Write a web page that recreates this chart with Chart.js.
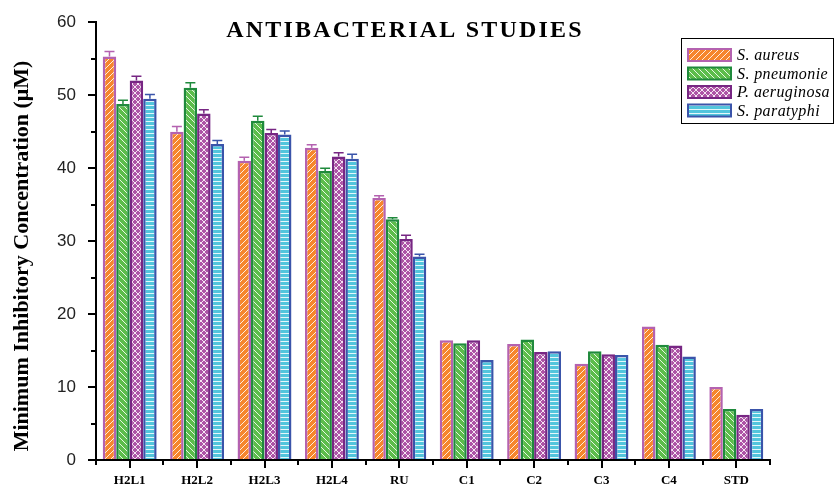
<!DOCTYPE html>
<html>
<head>
<meta charset="utf-8">
<script src="https://cdn.jsdelivr.net/npm/chart.js@4.4.1/dist/chart.umd.min.js"></script>
<style>
  html, body { margin: 0; padding: 0; background: #fff; }
  #wrap { width: 835px; height: 486px; position: relative; }
</style>
</head>
<body>
<div id="wrap"><canvas id="micChart"></canvas></div>
<script>
// Data
const compounds = ["H2L1", "H2L2", "H2L3", "H2L4", "RU", "C1", "C2", "C3", "C4", "STD"];
const seriesNames = ["S. aureus", "S. pneumonie", "P. aeruginosa", "S. paratyphi"];

const aureus      = [55.3, 45.0, 41.0, 42.8, 35.9, 16.4, 15.9, 13.2, 18.3, 10.0];
const pneumonie   = [48.8, 51.0, 46.5, 39.6, 33.0, 16.0, 16.5, 14.9, 15.8, 7.0];
const aeruginosa  = [52.0, 47.5, 44.8, 41.6, 30.3, 16.4, 14.8, 14.5, 15.7, 6.2];
const paratyphi   = [49.5, 43.3, 44.6, 41.3, 27.9, 13.7, 14.9, 14.4, 14.2, 7.0];

const aureusErr     = [0.7, 0.7, 0.5, 0.4, 0.3, 0, 0, 0, 0, 0];
const pneumonieErr  = [0.5, 0.7, 0.6, 0.4, 0.2, 0, 0, 0, 0, 0];
const aeruginosaErr = [0.6, 0.5, 0.5, 0.5, 0.5, 0, 0, 0, 0, 0];
const paratyphiErr  = [0.6, 0.5, 0.5, 0.6, 0.3, 0, 0, 0, 0, 0];

const yTicks = [0, 10, 20, 30, 40, 50, 60];

// Pattern fills
function makePattern(bg, kind) {
  const c = document.createElement("canvas");
  const s = kind === "horiz" ? 4 : 6;
  c.width = s;
  c.height = s;
  const g = c.getContext("2d");
  g.fillStyle = bg;
  g.fillRect(0, 0, s, s);
  g.strokeStyle = "rgba(255,255,255,0.85)";
  g.lineWidth = 1;
  if (kind === "fwd" || kind === "cross") {
    g.beginPath();
    g.moveTo(-1, s + 1); g.lineTo(s + 1, -1);
    g.moveTo(-1, 1); g.lineTo(1, -1);
    g.moveTo(s - 1, s + 1); g.lineTo(s + 1, s - 1);
    g.stroke();
  }
  if (kind === "back" || kind === "cross") {
    g.beginPath();
    g.moveTo(-1, -1); g.lineTo(s + 1, s + 1);
    g.moveTo(s - 1, -1); g.lineTo(s + 1, 1);
    g.moveTo(-1, s - 1); g.lineTo(1, s + 1);
    g.stroke();
  }
  if (kind === "horiz") {
    g.fillStyle = "rgba(255,255,255,0.85)";
    g.fillRect(0, 1, s, 1);
  }
  return g.createPattern(c, "repeat");
}

const styles = [
  { fill: makePattern("#f6862c", "fwd"), border: "#b462b0" },
  { fill: makePattern("#5cbd4b", "back"), border: "#1f8a3c" },
  { fill: makePattern("#ad54a6", "cross"), border: "#772683" },
  { fill: makePattern("#52c5dc", "horiz"), border: "#3a54aa" },
];

const values = [aureus, pneumonie, aeruginosa, paratyphi];
const errors = [aureusErr, pneumonieErr, aeruginosaErr, paratyphiErr];

// Extra drawing: title, axis title, minor ticks, error bars, legend
const extrasPlugin = {
  id: "extras",
  afterDatasetsDraw(chart) {
    const ctx = chart.ctx;
    const y = chart.scales.y;
    const area = chart.chartArea;

    // error bars
    chart.data.datasets.forEach((ds, di) => {
      const meta = chart.getDatasetMeta(di);
      meta.data.forEach((bar, i) => {
        const e = errors[di][i];
        if (!e) return;
        const yTop = y.getPixelForValue(values[di][i] + e);
        ctx.save();
        ctx.strokeStyle = styles[di].border;
        ctx.lineWidth = 1.5;
        ctx.beginPath();
        ctx.moveTo(bar.x, bar.y);
        ctx.lineTo(bar.x, yTop);
        ctx.moveTo(bar.x - 5, yTop);
        ctx.lineTo(bar.x + 5, yTop);
        ctx.stroke();
        ctx.restore();
      });
    });

    ctx.save();
    ctx.strokeStyle = "#000";
    ctx.lineWidth = 2;
    // minor y ticks
    for (let v = 5; v < 60; v += 10) {
      const py = Math.round(y.getPixelForValue(v));
      ctx.beginPath();
      ctx.moveTo(area.left, py);
      ctx.lineTo(area.left - 5, py);
      ctx.stroke();
    }
    // minor x ticks at category boundaries
    const step = (area.right - area.left) / compounds.length;
    for (let i = 0; i <= compounds.length; i++) {
      const px = Math.round(area.left + i * step);
      ctx.beginPath();
      ctx.moveTo(px, area.bottom);
      ctx.lineTo(px, area.bottom + 5);
      ctx.stroke();
    }

    // title
    ctx.fillStyle = "#000";
    ctx.font = "bold 24px 'Liberation Serif'";
    ctx.textAlign = "center";
    ctx.textBaseline = "middle";
    ctx.letterSpacing = "2.2px";
    ctx.fillText("ANTIBACTERIAL STUDIES", 405, 31);
    ctx.letterSpacing = "0px";

    // y axis title
    ctx.save();
    ctx.translate(22, 256);
    ctx.rotate(-Math.PI / 2);
    ctx.font = "bold 22px 'Liberation Serif'";
    ctx.fillText("Minimum Inhibitory Concentration (μM)", 0, 0);
    ctx.restore();

    // legend
    const lx = 681, ly = 38, lw = 152, lh = 85;
    ctx.lineWidth = 1;
    ctx.strokeStyle = "#000";
    ctx.strokeRect(lx + 0.5, ly + 0.5, lw, lh);
    ctx.font = "italic 16px 'Liberation Serif'";
    ctx.letterSpacing = "0.4px";
    ctx.textAlign = "left";
    seriesNames.forEach((name, k) => {
      const cy = ly + 17 + k * 18.5;
      ctx.fillStyle = styles[k].fill;
      ctx.fillRect(688, cy - 6, 43, 12);
      ctx.strokeStyle = styles[k].border;
      ctx.lineWidth = 2;
      ctx.strokeRect(688, cy - 6, 43, 12);
      ctx.fillStyle = "#000";
      ctx.fillText(name, 737, cy + 1);
    });
    ctx.letterSpacing = "0px";
    ctx.restore();
  },
};

const datasets = seriesNames.map((name, k) => ({
  label: name,
  data: values[k],
  backgroundColor: styles[k].fill,
  borderColor: styles[k].border,
  borderWidth: 2.5,
  borderSkipped: "bottom",
  categoryPercentage: 0.8,
  barPercentage: 1.0,
}));

new Chart(document.getElementById("micChart"), {
  type: "bar",
  data: { labels: compounds, datasets: datasets },
  plugins: [extrasPlugin],
  options: {
    responsive: true,
    maintainAspectRatio: false,
    animation: false,
    layout: { padding: { top: 20, right: 65, left: 0, bottom: 0 } },
    plugins: {
      legend: { display: false },
      tooltip: { enabled: false },
    },
    scales: {
      x: {
        afterFit: (scale) => { scale.height = 26; },
        grid: {
          offset: false,
          drawOnChartArea: false,
          drawTicks: true,
          tickLength: 8,
          color: "#000",
          lineWidth: 2,
        },
        border: { display: true, color: "#000", width: 2 },
        ticks: {
          color: "#000",
          padding: 5,
          font: { family: "'Liberation Serif'", size: 13, weight: "bold" },
        },
      },
      y: {
        min: 0,
        max: 60,
        afterFit: (scale) => { scale.width = 96; },
        afterBuildTicks: (scale) => {
          scale.ticks = yTicks.map((v) => ({ value: v }));
        },
        grid: {
          drawOnChartArea: false,
          drawTicks: true,
          tickLength: 8,
          color: "#000",
          lineWidth: 2,
        },
        border: { display: true, color: "#000", width: 2 },
        ticks: {
          color: "#222",
          padding: 12,
          font: { family: "'Liberation Sans'", size: 17 },
        },
        title: { display: false },
      },
    },
  },
});
</script>
</body>
</html>
